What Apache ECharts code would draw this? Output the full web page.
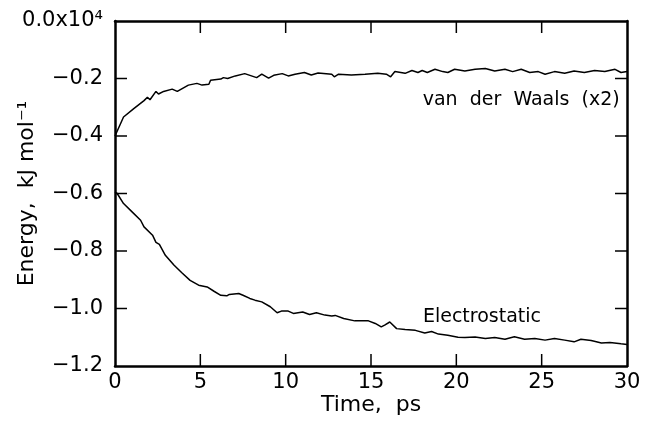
<!DOCTYPE html>
<html>
<head>
<meta charset="utf-8">
<script src="https://cdn.jsdelivr.net/npm/echarts@6/dist/echarts.min.js"></script>
<style>html,body{margin:0;padding:0;background:#fff;}#c{width:645px;height:425px;}</style>
</head>
<body>
<div id="c"></div>
<script>
// Time (ps) and energy values (units of 10^4 kJ/mol as shown on axis)
var vdwTime = [0,0.5,1.1,1.7,1.9,2.05,2.4,2.55,2.85,3.35,3.65,4.3,4.8,5.1,5.5,5.6,6.2,6.35,6.6,7.05,7.6,8.3,8.6,9.0,9.3,9.8,10.15,10.55,11.1,11.5,11.9,12.7,12.85,13.1,13.85,14.65,15.4,15.9,16.15,16.4,17.0,17.4,17.75,18.0,18.3,18.75,19.2,19.5,19.9,20.5,21.1,21.7,22.25,22.85,23.3,23.8,24.3,24.8,25.2,25.75,26.35,26.9,27.5,28.1,28.7,29.3,29.65,30];
var vdwValues = [-0.400,-0.334,-0.305,-0.277,-0.265,-0.274,-0.245,-0.254,-0.245,-0.237,-0.245,-0.223,-0.217,-0.223,-0.220,-0.206,-0.202,-0.197,-0.200,-0.191,-0.183,-0.197,-0.185,-0.199,-0.189,-0.183,-0.191,-0.185,-0.179,-0.188,-0.181,-0.185,-0.194,-0.185,-0.188,-0.185,-0.182,-0.185,-0.194,-0.176,-0.182,-0.172,-0.179,-0.172,-0.179,-0.168,-0.176,-0.179,-0.168,-0.174,-0.168,-0.165,-0.174,-0.168,-0.176,-0.168,-0.179,-0.176,-0.185,-0.176,-0.182,-0.174,-0.179,-0.172,-0.176,-0.168,-0.179,-0.176];
var elecTime = [0,0.13,0.5,1.0,1.5,1.7,2.2,2.4,2.6,2.95,3.45,3.9,4.4,4.9,5.4,5.8,6.2,6.55,6.7,7.25,7.5,7.9,8.2,8.6,9.1,9.5,9.75,10.15,10.45,11.0,11.4,11.8,12.3,12.7,12.9,13.4,14.05,14.85,15.25,15.6,15.8,16.1,16.5,17.0,17.6,18.15,18.55,18.95,19.5,20.1,20.5,21.1,21.7,22.25,22.85,23.4,24.0,24.6,25.2,25.75,26.35,26.9,27.3,27.9,28.5,29.0,29.65,30];
var elecValues = [-0.595,-0.600,-0.635,-0.664,-0.693,-0.716,-0.745,-0.770,-0.777,-0.815,-0.849,-0.875,-0.902,-0.919,-0.925,-0.940,-0.954,-0.956,-0.951,-0.948,-0.954,-0.965,-0.971,-0.977,-0.994,-1.015,-1.009,-1.009,-1.017,-1.012,-1.021,-1.015,-1.023,-1.026,-1.024,-1.035,-1.043,-1.043,-1.052,-1.064,-1.058,-1.047,-1.070,-1.073,-1.076,-1.085,-1.080,-1.089,-1.093,-1.100,-1.101,-1.099,-1.104,-1.101,-1.107,-1.098,-1.107,-1.104,-1.110,-1.104,-1.110,-1.116,-1.107,-1.111,-1.120,-1.118,-1.123,-1.125];
var xTicks = [0,5,10,15,20,25,30];
var yTicks = [0,-0.2,-0.4,-0.6,-0.8,-1.0,-1.2];
var xName = 'Time,  ps';
var yName = 'Energy,  kJ mol\u207B\u00B9';
var vdwLabel = 'van  der  Waals  (x2)';
var elecLabel = 'Electrostatic';

function zip(a, b) { return a.map(function (t, i) { return [t, b[i]]; }); }

var FONT = 'DejaVu Sans';
var X_MIN = xTicks[0], X_MAX = xTicks[xTicks.length - 1];
var Y_MIN = yTicks[yTicks.length - 1], Y_MAX = yTicks[0];
var TICK_LEN = 12;

// inward frame ticks on all four sides, placed through the axes' own scales
var tickData = [];
xTicks.slice(1, -1).forEach(function (t) { tickData.push([t, Y_MIN, 0]); tickData.push([t, Y_MAX, 1]); });
yTicks.slice(1, -1).forEach(function (v) { tickData.push([X_MIN, v, 2]); tickData.push([X_MAX, v, 3]); });

function renderTick(params, api) {
  var p = api.coord([api.value(0), api.value(1)]);
  var side = api.value(2);
  var x2 = p[0], y2 = p[1];
  if (side === 0) y2 = p[1] - TICK_LEN;
  else if (side === 1) y2 = p[1] + TICK_LEN;
  else if (side === 2) x2 = p[0] + TICK_LEN;
  else x2 = p[0] - TICK_LEN;
  return { type: 'line', shape: { x1: p[0], y1: p[1], x2: x2, y2: y2 },
           style: { stroke: '#000', lineWidth: 1.5 } };
}

function axisLine() { return { show: true, onZero: false, lineStyle: { color: '#000', width: 2.5 } }; }
var chart = echarts.init(document.getElementById('c'), null, { renderer: 'canvas' });
chart.setOption({
  backgroundColor: '#fff',
  animation: false,
  grid: { left: 115, right: 18, top: 21, bottom: 59, containLabel: false },
  xAxis: [{
    type: 'value', min: X_MIN, max: X_MAX, interval: 5,
    position: 'bottom',
    name: xName, nameLocation: 'middle', nameGap: 28, nameMoveOverlap: false,
    nameTextStyle: { fontFamily: FONT, fontSize: 22, color: '#000' },
    axisLine: axisLine(),
    axisTick: { show: false },
    axisLabel: { fontFamily: FONT, fontSize: 21, color: '#000', margin: 6 },
    splitLine: { show: false }
  }, {
    type: 'value', min: X_MIN, max: X_MAX, interval: 5,
    position: 'top',
    axisLine: axisLine(),
    axisTick: { show: false },
    axisLabel: { show: false },
    splitLine: { show: false }
  }],
  yAxis: [{
    type: 'value', min: Y_MIN, max: Y_MAX, interval: 0.2,
    position: 'left',
    name: yName, nameLocation: 'middle', nameGap: 77, nameRotate: 90, nameMoveOverlap: false,
    nameTextStyle: { fontFamily: FONT, fontSize: 22, color: '#000' },
    axisLine: axisLine(),
    axisTick: { show: false },
    axisLabel: {
      fontFamily: FONT, fontSize: 21, color: '#000', margin: 12,
      formatter: function (v) {
        if (Math.abs(v) < 0.01) return '0.0x10\u2074';
        return v.toFixed(1).replace('-', '\u2212');
      }
    },
    splitLine: { show: false }
  }, {
    type: 'value', min: Y_MIN, max: Y_MAX, interval: 0.2,
    position: 'right',
    axisLine: axisLine(),
    axisTick: { show: false },
    axisLabel: { show: false },
    splitLine: { show: false }
  }],
  series: [{
    type: 'custom', name: 'ticks', renderItem: renderTick, data: tickData,
    xAxisIndex: 0, yAxisIndex: 0, silent: true, clip: false,
    encode: { x: 0, y: 1 }
  }, {
    type: 'line', name: vdwLabel, data: zip(vdwTime, vdwValues),
    xAxisIndex: 0, yAxisIndex: 0,
    showSymbol: false, symbol: 'none',
    lineStyle: { color: '#000', width: 1.5 },
    markPoint: {
      symbol: 'rect', symbolSize: 0,
      label: { show: true, formatter: vdwLabel, fontFamily: FONT, fontSize: 19, color: '#000', position: 'inside' },
      data: [{ coord: [23.8, -0.275] }]
    }
  }, {
    type: 'line', name: elecLabel, data: zip(elecTime, elecValues),
    xAxisIndex: 0, yAxisIndex: 0,
    showSymbol: false, symbol: 'none',
    lineStyle: { color: '#000', width: 1.5 },
    markPoint: {
      symbol: 'rect', symbolSize: 0,
      label: { show: true, formatter: elecLabel, fontFamily: FONT, fontSize: 19, color: '#000', position: 'inside' },
      data: [{ coord: [21.5, -1.03] }]
    }
  }]
});
</script>
</body>
</html>
